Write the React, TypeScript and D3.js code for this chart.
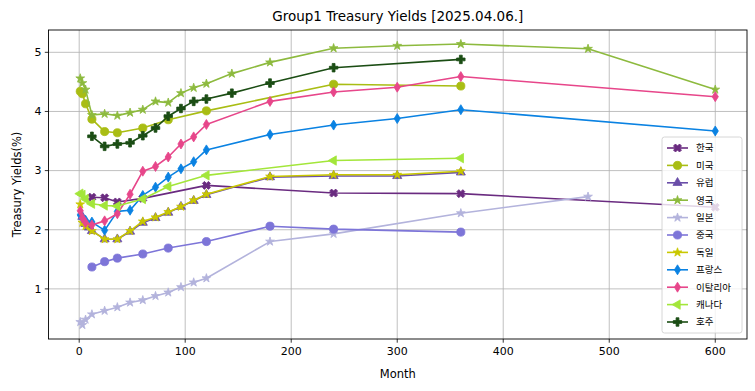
import * as d3 from "d3";

const COUNTRIES = ["한국", "미국", "유럽", "영국", "일본", "중국", "독일", "프랑스", "이탈리아", "캐나다", "호주"];
const COLORS = ["#6a2b80", "#a9bd14", "#6a4ea8", "#8dba3e", "#b3b3dc", "#7d75d8", "#c9c800", "#0a82e2", "#e7468a", "#a3e63a", "#1b4d14"];
const MARKERS = ["X", "o", "^", "*", "*", "o", "*", "d", "d", "<", "P"];

const KR_MONTHS = [12, 24, 36, 60, 120, 240, 360, 600];
const KR_YIELDS = [2.55, 2.54, 2.47, 2.53, 2.75, 2.62, 2.61, 2.38];

const US_MONTHS = [1, 3, 6, 12, 24, 36, 60, 84, 120, 240, 360];
const US_YIELDS = [4.34, 4.30, 4.13, 3.87, 3.66, 3.64, 3.72, 3.86, 4.01, 4.46, 4.43];

const EU_MONTHS = [3, 6, 9, 12, 24, 36, 48, 60, 72, 84, 96, 108, 120, 180, 240, 300, 360];
const EU_YIELDS = [2.22, 2.10, 2.04, 1.98, 1.84, 1.84, 1.97, 2.12, 2.20, 2.29, 2.39, 2.49, 2.59, 2.89, 2.91, 2.91, 2.97];

const UK_MONTHS = [1, 3, 6, 12, 24, 36, 48, 60, 72, 84, 96, 108, 120, 144, 180, 240, 300, 360, 480, 600];
const UK_YIELDS = [4.56, 4.48, 4.37, 3.94, 3.96, 3.93, 3.98, 4.03, 4.17, 4.15, 4.31, 4.40, 4.47, 4.64, 4.83, 5.07, 5.11, 5.14, 5.06, 4.37];

const JP_MONTHS = [1, 3, 6, 12, 24, 36, 48, 60, 72, 84, 96, 108, 120, 180, 240, 360, 480];
const JP_YIELDS = [0.44, 0.39, 0.48, 0.57, 0.63, 0.69, 0.77, 0.81, 0.88, 0.94, 1.03, 1.11, 1.18, 1.80, 1.93, 2.28, 2.56];

const CN_MONTHS = [12, 24, 36, 60, 84, 120, 180, 240, 360];
const CN_YIELDS = [1.37, 1.46, 1.52, 1.59, 1.69, 1.80, 2.06, 2.01, 1.96];

const DE_MONTHS = [1, 3, 6, 12, 24, 36, 48, 60, 72, 84, 96, 108, 120, 180, 240, 300, 360];
const DE_YIELDS = [2.43, 2.12, 2.06, 1.98, 1.84, 1.84, 1.98, 2.14, 2.21, 2.30, 2.39, 2.50, 2.60, 2.90, 2.93, 2.93, 2.99];

const FR_MONTHS = [1, 3, 6, 12, 24, 36, 48, 60, 72, 84, 96, 108, 120, 180, 240, 300, 360, 600];
const FR_YIELDS = [2.25, 2.20, 2.16, 2.13, 1.99, 2.31, 2.33, 2.58, 2.72, 2.89, 3.03, 3.15, 3.35, 3.61, 3.77, 3.88, 4.03, 3.67];

const IT_MONTHS = [1, 3, 6, 12, 24, 36, 48, 60, 72, 84, 96, 108, 120, 180, 240, 300, 360, 600];
const IT_YIELDS = [2.32, 2.20, 2.12, 2.08, 2.15, 2.27, 2.60, 2.99, 3.07, 3.23, 3.45, 3.57, 3.78, 4.17, 4.33, 4.41, 4.59, 4.25];

const CA_MONTHS = [1, 3, 6, 12, 24, 36, 60, 84, 120, 240, 360];
const CA_YIELDS = [2.61, 2.59, 2.52, 2.44, 2.41, 2.40, 2.52, 2.73, 2.92, 3.17, 3.21];

const AU_MONTHS = [12, 24, 36, 48, 60, 72, 84, 96, 108, 120, 144, 180, 240, 360];
const AU_YIELDS = [3.58, 3.41, 3.45, 3.47, 3.59, 3.72, 3.92, 4.05, 4.17, 4.21, 4.31, 4.48, 4.74, 4.88];

const ALL_MONTHS = [KR_MONTHS, US_MONTHS, EU_MONTHS, UK_MONTHS, JP_MONTHS, CN_MONTHS, DE_MONTHS, FR_MONTHS, IT_MONTHS, CA_MONTHS, AU_MONTHS];
const ALL_YIELDS = [KR_YIELDS, US_YIELDS, EU_YIELDS, UK_YIELDS, JP_YIELDS, CN_YIELDS, DE_YIELDS, FR_YIELDS, IT_YIELDS, CA_YIELDS, AU_YIELDS];

const X_TICKS = [0, 100, 200, 300, 400, 500, 600];
const Y_TICKS = [1, 2, 3, 4, 5];

const W = 755;
const H = 391;
const PLOT = { left: 48.5, right: 747, top: 30, bottom: 339 };
const FONT = "DejaVu Sans, Noto Sans CJK KR, sans-serif";

interface Series {
    name: string;
    color: string;
    marker: string;
    points: [number, number][];
}

const SERIES: Series[] = COUNTRIES.map((name, i) => ({
    name,
    color: COLORS[i],
    marker: MARKERS[i],
    points: ALL_MONTHS[i].map((m, j) => [m, ALL_YIELDS[i][j]] as [number, number]),
}));

// matplotlib-style 5% padding on each side
function padded(vals: number[]): [number, number] {
    const [lo, hi] = d3.extent(vals) as [number, number];
    const p = (hi - lo) * 0.05;
    return [lo - p, hi + p];
}

function Marker({ kind, color }: { kind: string; color: string }) {
    let d: string;
    let rot = 0;
    switch (kind) {
        case "o":
            d = d3.symbol(d3.symbolCircle, 52)()!;
            break;
        case "^":
            d = d3.symbol(d3.symbolTriangle, 36)()!;
            break;
        case "<":
            d = d3.symbol(d3.symbolTriangle, 38)()!;
            rot = -90;
            break;
        case "*":
            d = d3.symbol(d3.symbolStar, 24)()!;
            break;
        case "d":
            d = "M0,-5L3.1,0L0,5L-3.1,0Z";
            break;
        case "P":
            d = d3.symbol(d3.symbolCross, 40)()!;
            break;
        default:
            d = d3.symbol(d3.symbolCross, 40)()!;
            rot = 45;
    }
    return <path d={d} transform={rot ? `rotate(${rot})` : undefined} fill={color} stroke={color} strokeWidth={0.8} />;
}

export default function App() {
    const allX = SERIES.flatMap((s) => s.points.map((p) => p[0]));
    const allY = SERIES.flatMap((s) => s.points.map((p) => p[1]));
    const x = d3.scaleLinear().domain(padded(allX)).range([PLOT.left, PLOT.right]);
    const y = d3.scaleLinear().domain(padded(allY)).range([PLOT.bottom, PLOT.top]);
    const line = d3
        .line<[number, number]>()
        .x((p) => x(p[0]))
        .y((p) => y(p[1]));

    const legX = 662;
    const legY = 137;
    const rowH = 17.4;

    return (
        <svg width={W} height={H} style={{ position: "absolute", left: 0, top: 0, background: "#fff" }} fontFamily={FONT}>
            <rect x={0} y={0} width={W} height={H} fill="#fff" />
            <text x={(PLOT.left + PLOT.right) / 2} y={21} textAnchor="middle" fontSize={13.5}>
                Group1 Treasury Yields [2025.04.06.]
            </text>

            {/* grid */}
            <g stroke="#b0b0b0" strokeWidth={0.8}>
                {X_TICKS.map((t) => (
                    <line key={`gx${t}`} x1={x(t)} x2={x(t)} y1={PLOT.top} y2={PLOT.bottom} />
                ))}
                {Y_TICKS.map((t) => (
                    <line key={`gy${t}`} x1={PLOT.left} x2={PLOT.right} y1={y(t)} y2={y(t)} />
                ))}
            </g>

            <defs>
                <clipPath id="plot-clip">
                    <rect x={PLOT.left} y={PLOT.top} width={PLOT.right - PLOT.left} height={PLOT.bottom - PLOT.top} />
                </clipPath>
            </defs>

            <g clipPath="url(#plot-clip)">
                {SERIES.map((s) => (
                    <g key={s.name}>
                        <path d={line(s.points)!} fill="none" stroke={s.color} strokeWidth={1.6} strokeLinejoin="round" />
                        {s.points.map((p, j) => (
                            <g key={j} transform={`translate(${x(p[0])},${y(p[1])})`}>
                                <Marker kind={s.marker} color={s.color} />
                            </g>
                        ))}
                    </g>
                ))}
            </g>

            {/* frame + ticks */}
            <rect x={PLOT.left} y={PLOT.top} width={PLOT.right - PLOT.left} height={PLOT.bottom - PLOT.top} fill="none" stroke="#000" strokeWidth={0.9} />
            {X_TICKS.map((t) => (
                <g key={`tx${t}`} transform={`translate(${x(t)},${PLOT.bottom})`}>
                    <line y2={3.7} stroke="#000" strokeWidth={0.8} />
                    <text y={15.5} textAnchor="middle" fontSize={11}>
                        {t}
                    </text>
                </g>
            ))}
            {Y_TICKS.map((t) => (
                <g key={`ty${t}`} transform={`translate(${PLOT.left},${y(t)})`}>
                    <line x2={-3.7} stroke="#000" strokeWidth={0.8} />
                    <text x={-7} dy="0.35em" textAnchor="end" fontSize={11}>
                        {t}
                    </text>
                </g>
            ))}
            <text x={(PLOT.left + PLOT.right) / 2} y={378} textAnchor="middle" fontSize={11.5}>
                Month
            </text>
            <text transform={`translate(21,${(PLOT.top + PLOT.bottom) / 2}) rotate(-90)`} textAnchor="middle" fontSize={11.5}>
                Treasury Yields(%)
            </text>

            {/* legend */}
            <rect x={legX} y={legY} width={80} height={196} rx={2.5} fill="#fff" fillOpacity={0.8} stroke="#cccccc" strokeWidth={0.8} />
            {SERIES.map((s, i) => {
                const cy = legY + 11 + i * rowH;
                return (
                    <g key={`lg${s.name}`}>
                        <line x1={legX + 5} x2={legX + 26} y1={cy} y2={cy} stroke={s.color} strokeWidth={1.6} />
                        <g transform={`translate(${legX + 15.5},${cy})`}>
                            <Marker kind={s.marker} color={s.color} />
                        </g>
                        <text x={legX + 34} y={cy} dy="0.35em" fontSize={9.5} fontFamily="Noto Sans CJK KR, sans-serif">
                            {s.name}
                        </text>
                    </g>
                );
            })}
        </svg>
    );
}
